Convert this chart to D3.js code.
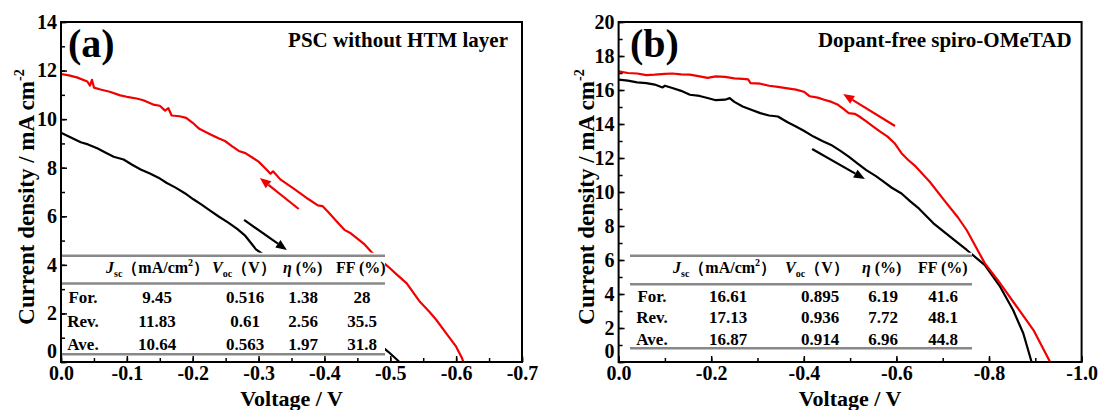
<!DOCTYPE html>
<html>
<head>
<meta charset="utf-8">
<script src="https://cdn.jsdelivr.net/npm/d3@7"></script>
<style>
body{margin:0;background:#fff;}
svg text{font-family:"Liberation Serif","Times New Roman",serif;font-weight:bold;fill:#000;}
</style>
</head>
<body>
<div id="chart"></div>
<script>
var width = 1101;
var height = 410;
var svg;

// tick values
var xTicksA = [0, -0.1, -0.2, -0.3, -0.4, -0.5, -0.6, -0.7];
var yTicksA = [0, 2, 4, 6, 8, 10, 12, 14];
var xTicksB = [0, -0.2, -0.4, -0.6, -0.8, -1.0];
var yTicksB = [0, 2, 4, 6, 8, 10, 12, 14, 16, 18, 20];

// (a) PSC without HTM layer : [voltage, current density]
var reverseA = [[0,11.86],[-0.012,11.8],[-0.024,11.72],[-0.04,11.55],[-0.044,11.38],[-0.047,11.62],[-0.05,11.3],
  [-0.06,11.22],[-0.074,11.13],[-0.09,10.98],[-0.1,10.92],[-0.115,10.85],[-0.125,10.78],[-0.14,10.6],[-0.15,10.55],
  [-0.158,10.35],[-0.163,10.45],[-0.168,10.15],[-0.18,10.12],[-0.19,10.05],[-0.2,9.85],[-0.21,9.6],[-0.227,9.37],
  [-0.24,9.2],[-0.249,9.1],[-0.26,8.88],[-0.27,8.69],[-0.28,8.6],[-0.291,8.41],[-0.3,8.25],[-0.312,7.93],
  [-0.318,7.75],[-0.322,7.85],[-0.333,7.52],[-0.355,7.11],[-0.376,6.7],[-0.39,6.45],[-0.397,6.42],[-0.405,6.2],
  [-0.418,5.81],[-0.431,5.43],[-0.44,5.3],[-0.461,4.84],[-0.471,4.54],[-0.485,4.2],[-0.497,3.92],[-0.51,3.6],
  [-0.525,3.24],[-0.545,2.48],[-0.56,2.05],[-0.57,1.73],[-0.585,1.18],[-0.6,0.63],[-0.609,0.15],[-0.611,0]];
var forwardA = [[0,9.44],[-0.015,9.24],[-0.03,9.05],[-0.041,8.96],[-0.055,8.8],[-0.068,8.62],[-0.08,8.45],
  [-0.095,8.34],[-0.108,8.12],[-0.121,7.93],[-0.135,7.76],[-0.148,7.59],[-0.16,7.38],[-0.174,7.18],[-0.188,6.95],
  [-0.201,6.7],[-0.214,6.47],[-0.227,6.22],[-0.24,5.98],[-0.254,5.74],[-0.268,5.47],[-0.28,5.19],[-0.296,4.64],
  [-0.33,4.0],[-0.37,3.2],[-0.41,2.4],[-0.45,1.5],[-0.48,0.8],[-0.497,0.42],[-0.514,0]];

// (b) Dopant-free spiro-OMeTAD
var reverseB = [[0,17.1],[-0.02,17.0],[-0.04,16.97],[-0.06,16.88],[-0.078,16.9],[-0.1,16.95],[-0.116,16.97],
  [-0.135,16.92],[-0.154,16.9],[-0.175,16.8],[-0.192,16.71],[-0.21,16.8],[-0.23,16.77],[-0.25,16.68],[-0.268,16.65],
  [-0.28,16.62],[-0.285,16.4],[-0.306,16.37],[-0.325,16.25],[-0.344,16.18],[-0.365,16.1],[-0.383,16.02],[-0.4,15.9],
  [-0.413,15.63],[-0.43,15.55],[-0.444,15.43],[-0.46,15.3],[-0.474,15.13],[-0.485,14.9],[-0.497,14.64],[-0.51,14.6],
  [-0.52,14.44],[-0.535,14.15],[-0.55,13.85],[-0.565,13.55],[-0.581,13.26],[-0.596,12.87],[-0.611,12.28],
  [-0.625,11.9],[-0.642,11.49],[-0.657,11.05],[-0.672,10.6],[-0.703,9.52],[-0.733,8.5],[-0.752,7.75],
  [-0.791,5.8],[-0.824,4.63],[-0.86,3.25],[-0.896,1.88],[-0.932,0]];
var forwardB = [[0,16.61],[-0.02,16.55],[-0.04,16.45],[-0.06,16.4],[-0.078,16.32],[-0.095,16.15],[-0.1,16.25],
  [-0.116,16.12],[-0.135,15.95],[-0.154,15.72],[-0.175,15.65],[-0.192,15.53],[-0.21,15.4],[-0.23,15.43],[-0.24,15.52],
  [-0.25,15.3],[-0.268,15.03],[-0.285,14.85],[-0.306,14.64],[-0.325,14.5],[-0.344,14.44],[-0.365,14.1],[-0.383,13.85],
  [-0.4,13.6],[-0.421,13.26],[-0.44,13.0],[-0.459,12.77],[-0.48,12.4],[-0.497,12.08],[-0.515,11.7],[-0.535,11.29],
  [-0.555,10.95],[-0.573,10.6],[-0.59,10.25],[-0.611,9.91],[-0.63,9.45],[-0.649,9.02],[-0.68,8.16],[-0.726,7.15],
  [-0.752,6.59],[-0.791,5.7],[-0.824,4.43],[-0.852,3.06],[-0.874,1.69],[-0.892,0]];

// scan direction arrows [tail, tip]
var arrowRevA = [[-0.361,6.30],[-0.302,7.58]];
var arrowForA = [[-0.278,5.85],[-0.343,4.61]];
var arrowRevB = [[-0.597,13.88],[-0.485,15.76]];
var arrowForB = [[-0.418,12.53],[-0.532,10.76]];

// table values
var tableRows = ["For.", "Rev.", "Ave."];
var jscA = ["9.45", "11.83", "10.64"];
var vocA = ["0.516", "0.61", "0.563"];
var etaA = ["1.38", "2.56", "1.97"];
var ffA = ["28", "35.5", "31.8"];
var jscB = ["16.61", "17.13", "16.87"];
var vocB = ["0.895", "0.936", "0.914"];
var etaB = ["6.19", "7.72", "6.96"];
var ffB = ["41.6", "48.1", "44.8"];

function fmtV(v){
  return v.toFixed(1);
}

function drawArrow(g, x, y, pts, color){
  var x1 = x(pts[0][0]), y1 = y(pts[0][1]);
  var x2 = x(pts[1][0]), y2 = y(pts[1][1]);
  var dx = x2 - x1, dy = y2 - y1;
  var len = Math.sqrt(dx*dx + dy*dy);
  var ux = dx/len, uy = dy/len;
  var hl = 11, hw = 4.5;
  var bx = x2 - ux*hl, by = y2 - uy*hl;
  g.append("line")
    .attr("x1", x1).attr("y1", y1)
    .attr("x2", bx).attr("y2", by)
    .attr("stroke", color).attr("stroke-width", 2.2);
  g.append("path")
    .attr("d", "M"+x2+","+y2+"L"+(bx - uy*hw)+","+(by + ux*hw)+"L"+(bx + uy*hw)+","+(by - ux*hw)+"Z")
    .attr("fill", color);
}

function drawTable(g, t, cols){
  g.append("rect")
    .attr("x", t.left).attr("y", t.lines[0] - 3)
    .attr("width", t.right - t.left).attr("height", t.lines[2] - t.lines[0] + 5)
    .attr("fill", "#fff");
  t.lines.forEach(function(ly){
    g.append("line")
      .attr("x1", t.left).attr("x2", t.right)
      .attr("y1", ly).attr("y2", ly)
      .attr("stroke", "#888").attr("stroke-width", 2.6);
  });

  var fs = 17, hs = 16, sub = 10;
  var h1 = g.append("text").attr("x", t.head[0]).attr("y", t.headY).attr("font-size", hs);
  h1.append("tspan").attr("font-style", "italic").text("J");
  h1.append("tspan").attr("font-size", sub).attr("dy", 4).text("sc");
  h1.append("tspan").attr("dy", -4).text("（mA/cm");
  h1.append("tspan").attr("font-size", sub).attr("dy", -7).text("2");
  h1.append("tspan").attr("dy", 7).text("）");

  var h2 = g.append("text").attr("x", t.head[1]).attr("y", t.headY).attr("font-size", hs);
  h2.append("tspan").attr("font-style", "italic").text("V");
  h2.append("tspan").attr("font-size", sub).attr("dy", 4).text("oc");
  h2.append("tspan").attr("dy", -4).text("（V）");

  var h3 = g.append("text").attr("x", t.head[2]).attr("y", t.headY).attr("font-size", hs);
  h3.append("tspan").attr("font-style", "italic").text("η");
  h3.append("tspan").text(" (%)");

  g.append("text").attr("x", t.head[3]).attr("y", t.headY).attr("font-size", hs).text("FF (%)");

  for(var c=0; c<cols.length; c++){
    for(var r=0; r<cols[c].length; r++){
      g.append("text")
        .attr("x", t.colX[c]).attr("y", t.rowY[r])
        .attr("text-anchor", "middle")
        .attr("font-size", fs)
        .text(cols[c][r]);
    }
  }
}

function drawPanel(cfg){
  var g = svg.append("g");
  var x = d3.scaleLinear().domain(cfg.xDomain).range([cfg.left, cfg.right]);
  var y = d3.scaleLinear().domain(cfg.yDomain).range([cfg.bottom, cfg.top]);
  var line = d3.line().x(function(d){ return x(d[0]); }).y(function(d){ return y(d[1]); });

  g.append("path").datum(cfg.forward).attr("d", line)
    .attr("fill", "none").attr("stroke", "#000").attr("stroke-width", 2.2).attr("stroke-linejoin", "round");
  g.append("path").datum(cfg.reverse).attr("d", line)
    .attr("fill", "none").attr("stroke", "#f20000").attr("stroke-width", 2.2).attr("stroke-linejoin", "round");

  drawTable(g, cfg.table, cfg.cols);

  drawArrow(g, x, y, cfg.arrowRev, "#f20000");
  drawArrow(g, x, y, cfg.arrowFor, "#000");

  // axes, ticks pointing inward
  var xMinor = d3.range(0, cfg.xTicks.length*2 - 1).map(function(i){ return cfg.xTicks[0] + i*(cfg.xTicks[1]-cfg.xTicks[0])/2; });
  var yMinor = d3.range(cfg.yDomain[0], cfg.yDomain[1] + 1, 1);

  g.append("g").attr("transform", "translate(0,"+cfg.bottom+")")
    .call(d3.axisBottom(x).tickValues(xMinor).tickFormat("").tickSizeInner(-4).tickSizeOuter(0))
    .call(function(a){ a.select(".domain").remove(); a.selectAll("line").attr("stroke-width", 1.5); });
  g.append("g").attr("transform", "translate("+cfg.left+",0)")
    .call(d3.axisLeft(y).tickValues(yMinor).tickFormat("").tickSizeInner(-4).tickSizeOuter(0))
    .call(function(a){ a.select(".domain").remove(); a.selectAll("line").attr("stroke-width", 1.5); });

  g.append("g").attr("transform", "translate(0,"+cfg.bottom+")")
    .call(d3.axisBottom(x).tickValues(cfg.xTicks).tickFormat(fmtV).tickSizeInner(-6).tickSizeOuter(0).tickPadding(4))
    .call(function(a){
      a.select(".domain").remove();
      a.selectAll("line").attr("stroke-width", 1.5);
      a.selectAll("text").attr("font-size", 20).attr("font-family", null);
    });
  g.append("g").attr("transform", "translate("+cfg.left+",0)")
    .call(d3.axisLeft(y).tickValues(cfg.yTicks).tickFormat(d3.format("d")).tickSizeInner(-6).tickSizeOuter(0).tickPadding(4))
    .call(function(a){
      a.select(".domain").remove();
      a.selectAll("line").attr("stroke-width", 1.5);
      a.selectAll("text").attr("font-size", 20).attr("font-family", null);
      // lift the bottom "0" clear of the "0.0" below it
      a.selectAll("text").filter(function(d){ return d === 0; }).attr("dy", "-0.25em");
    });

  g.append("rect")
    .attr("x", cfg.left).attr("y", cfg.top)
    .attr("width", cfg.right - cfg.left).attr("height", cfg.bottom - cfg.top)
    .attr("fill", "none").attr("stroke", "#000").attr("stroke-width", 2);

  // labels
  g.append("text").attr("x", cfg.tagX).attr("y", 57).attr("font-size", 40).text(cfg.tag);
  g.append("text").attr("x", cfg.right - cfg.titleGap).attr("y", 47)
    .attr("text-anchor", "end").attr("font-size", 21).text(cfg.title);

  g.append("text").attr("x", (cfg.left + cfg.right)/2).attr("y", 406)
    .attr("text-anchor", "middle").attr("font-size", 22).text("Voltage / V");

  var yl = g.append("text")
    .attr("transform", "translate("+cfg.ylabelX+",197) rotate(-90)")
    .attr("text-anchor", "middle").attr("font-size", 23);
  yl.append("tspan").text("Current density / mA cm");
  yl.append("tspan").attr("font-size", 14).attr("dy", -10).text("-2");
}

function initializeLayout(){
  svg = d3.select("#chart").append("svg")
    .attr("width", width).attr("height", height);

  drawPanel({
    left: 61, right: 522, top: 22, bottom: 362,
    xDomain: [0, -0.7], yDomain: [0, 14],
    xTicks: xTicksA, yTicks: yTicksA,
    forward: forwardA, reverse: reverseA,
    arrowRev: arrowRevA, arrowFor: arrowForA,
    tag: "(a)", tagX: 68, title: "PSC without HTM layer", titleGap: 14,
    ylabelX: 34,
    cols: [tableRows, jscA, vocA, etaA, ffA],
    table: {left: 62, right: 385, lines: [255.7, 283.5, 354.3], headY: 273,
      head: [106, 212, 283, 336], colX: [83, 157, 245, 303, 362], rowY: [303, 327, 350]}
  });

  drawPanel({
    left: 618.6, right: 1081.6, top: 22, bottom: 362,
    xDomain: [0, -1.0], yDomain: [0, 20],
    xTicks: xTicksB, yTicks: yTicksB,
    forward: forwardB, reverse: reverseB,
    arrowRev: arrowRevB, arrowFor: arrowForB,
    tag: "(b)", tagX: 630, title: "Dopant-free spiro-OMeTAD", titleGap: 10,
    ylabelX: 594,
    cols: [tableRows, jscB, vocB, etaB, ffB],
    table: {left: 630, right: 972, lines: [255.7, 284.3, 348.3], headY: 273,
      head: [673, 785, 862, 918], colX: [652, 728, 820, 883, 943], rowY: [301.7, 323.3, 345]}
  });
}

window.onload = initializeLayout;
</script>
</body>
</html>
